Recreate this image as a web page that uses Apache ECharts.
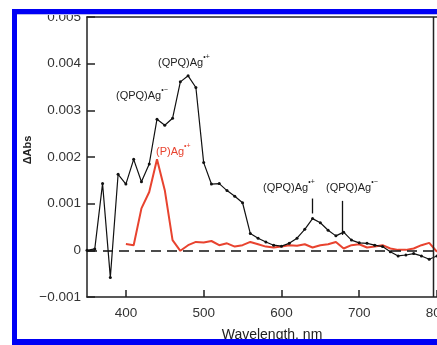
<!DOCTYPE html>
<html>
<head>
<meta charset="utf-8">
<style>
html,body{margin:0;padding:0;background:#fff;}
#c{width:437px;height:345px;}
</style>
<script src="https://cdn.jsdelivr.net/npm/echarts@6/dist/echarts.min.js"></script>
</head>
<body>
<div id="c"></div>
<script>
// Wavelength (nm) for the black (QPQ)Ag spectrum
var blackWavelengths = [350,360,370,380,390,400,410,420,430,440,450,460,470,480,490,500,510,520,530,540,550,560,570,580,590,600,610,620,630,640,650,660,670,680,690,700,710,720,730,740,750,760,770,780,790,800];
var blackValues = [0.00000,0.00003,0.00143,-0.00058,0.00163,0.00142,0.00195,0.00147,0.00185,0.00281,0.00268,0.00283,0.00361,0.00374,0.00349,0.00188,0.00142,0.00143,0.00128,0.00116,0.00102,0.00036,0.00026,0.00018,0.00011,0.00009,0.00015,0.00026,0.00045,0.00068,0.00059,0.00043,0.00031,0.00039,0.00022,0.00016,0.00015,0.00011,0.00008,-0.00003,-0.00012,-0.00010,-0.00007,-0.00012,-0.00019,-0.00012];
// Wavelength (nm) for the red (P)Ag spectrum
var redWavelengths = [400,410,420,430,440,450,460,470,480,490,500,510,520,530,540,550,560,570,580,590,600,610,620,630,640,650,660,670,680,690,700,710,720,730,740,750,760,770,780,790,800];
var redValues = [0.000135,0.00011,0.00090,0.00125,0.00195,0.00129,0.00022,-0.00001,0.00011,0.00018,0.00017,0.00020,0.00011,0.00015,0.00008,0.00011,0.00018,0.00013,0.00008,0.00006,0.00008,0.00011,0.00010,0.00013,0.00006,0.00011,0.00013,0.00018,0.00004,0.00011,0.00013,0.00006,0.00008,0.00011,0.00004,0.00001,0.00001,0.00004,0.00011,0.00016,-0.00003];
var xTicks = [400,500,600,700,800];
var yTicks = [-0.001,0,0.001,0.002,0.003,0.004,0.005];
var markerLines = [[640,0.00111,0.00079],[678,0.00106,0.00033]];

function zip(a,b){return a.map(function(v,i){return [v,b[i]];});}

var chart = echarts.init(document.getElementById('c'), null, {renderer:'canvas'});
var FONT = 'Liberation Sans, Arial, sans-serif';
function ann(x,y,main,sup,color){
  return {type:'text', left:x, top:y-7, z:50, style:{
    text:'{b|'+main+'}{s|'+sup+'}', fill:color,
    rich:{
      b:{fontSize:11, fontFamily:FONT, lineHeight:14, verticalAlign:'bottom', fill:color},
      s:{fontSize:7, fontFamily:FONT, lineHeight:7, verticalAlign:'top', fill:color}
    }
  }};
}

var option = {
  animation:false,
  backgroundColor:'#fff',
  grid:{left:87, top:17, width:350, height:280, containLabel:false, outerBoundsMode:'none'},
  xAxis:[{
    type:'value', min:350, max:800, position:'bottom',
    axisLine:{show:true, onZero:false, lineStyle:{color:'#222', width:1.5}},
    axisTick:{show:true, inside:true, length:7, customValues:xTicks, lineStyle:{color:'#222', width:1.5}},
    axisLabel:{show:true, customValues:xTicks, margin:9, fontSize:13.5, color:'#333', fontFamily:FONT, hideOverlap:false},
    splitLine:{show:false}
  },{
    type:'value', min:350, max:800, position:'top',
    axisLine:{show:true, onZero:false, lineStyle:{color:'#222', width:1.5}},
    axisTick:{show:false}, axisLabel:{show:false}, splitLine:{show:false}
  }],
  yAxis:{
    type:'value', min:-0.001, max:0.005, interval:0.001,
    axisLine:{show:true, onZero:false, lineStyle:{color:'#222', width:1.5}},
    axisTick:{show:true, inside:true, length:8, lineStyle:{color:'#222', width:1.5}},
    axisLabel:{margin:6, fontSize:13.5, color:'#333', fontFamily:FONT,
      formatter:function(v){
        var r = Math.round(v*1000)/1000;
        if (r===0) return '0';
        return (r<0?'\u2212':'') + Math.abs(r).toFixed(3);
      }},
    splitLine:{show:false}
  },
  series:[
    {
      type:'line', name:'(P)Ag', data:zip(redWavelengths, redValues),
      showSymbol:false, symbol:'none', z:3,
      lineStyle:{color:'#e8432f', width:2}
    },
    {
      type:'line', name:'(QPQ)Ag', data:zip(blackWavelengths, blackValues),
      symbol:'circle', symbolSize:3, z:4,
      itemStyle:{color:'#111'},
      lineStyle:{color:'#111', width:1.2},
      markLine:{
        silent:true, symbol:'none', animation:false,
        label:{show:false},
        data:[
          [{coord:[350,0], lineStyle:{type:[10,6], color:'#111', width:1.5}},{coord:[795,0]}],
          [{coord:[markerLines[0][0],markerLines[0][1]], lineStyle:{type:'solid', color:'#111', width:1.3}},{coord:[markerLines[0][0],markerLines[0][2]]}],
          [{coord:[markerLines[1][0],markerLines[1][1]], lineStyle:{type:'solid', color:'#111', width:1.3}},{coord:[markerLines[1][0],markerLines[1][2]]}]
        ]
      }
    }
  ],
  graphic:[
    {type:'line', z:20, shape:{x1:433.5, y1:17, x2:433.5, y2:297}, style:{stroke:'#222', lineWidth:1.5}},
    ann(158,61,'(QPQ)Ag','\u2022+','#222'),
    ann(116,94,'(QPQ)Ag','\u2022\u2212','#222'),
    ann(156,150,'(P)Ag','\u2022+','#e8432f'),
    ann(263,186,'(QPQ)Ag','\u2022+','#222'),
    ann(326,186,'(QPQ)Ag','\u2022\u2212','#222'),
    {type:'text', x:28, y:150, rotation:Math.PI/2, z:50, style:{text:'\u0394Abs', fill:'#222', font:'bold 11px '+FONT, align:'center', verticalAlign:'middle'}},
    {type:'text', x:272, y:335, z:50, style:{text:'Wavelength, nm', fill:'#222', font:'14px '+FONT, align:'center', verticalAlign:'middle'}},
    {type:'rect', z:100, shape:{x:12, y:9, width:425, height:5}, style:{fill:'#0000f5'}},
    {type:'rect', z:100, shape:{x:12, y:14, width:425, height:1}, style:{fill:'#b8b8f0'}},
    {type:'rect', z:100, shape:{x:12, y:9, width:5, height:336}, style:{fill:'#0000f5'}},
    {type:'rect', z:100, shape:{x:12, y:339, width:425, height:6}, style:{fill:'#0000f5'}}
  ]
};
chart.setOption(option);
</script>
</body>
</html>
